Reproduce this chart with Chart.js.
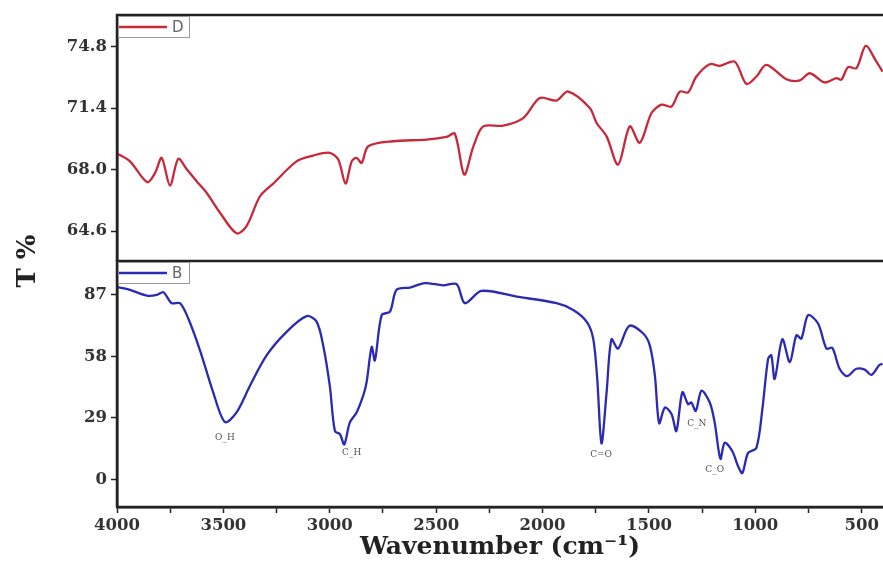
<!DOCTYPE html>
<html>
<head>
<meta charset="utf-8">
<script src="https://cdn.jsdelivr.net/npm/chart.js@4.4.1/dist/chart.umd.min.js"></script>
<style>
  html, body { margin: 0; padding: 0; background: #fff; }
  canvas { display: block; }
</style>
</head>
<body>
<canvas id="chart" width="883" height="562"></canvas>
<script>
// sample D (top panel)
const waveD = [4000, 3939, 3858, 3821, 3790, 3751, 3712, 3673, 3626, 3579,
  3516, 3438, 3391, 3328, 3266, 3156, 3078, 3000, 2960, 2926,
  2897, 2874, 2850, 2819, 2702, 2545, 2451, 2412, 2368, 2325,
  2279, 2185, 2091, 2013, 1934, 1880, 1778, 1746, 1699, 1645,
  1590, 1543, 1488, 1441, 1394, 1355, 1316, 1277, 1214, 1167,
  1097, 1042, 995, 948, 854, 791, 744, 674, 619, 596,
  564, 525, 481, 431, 402];
const transD = [68.89, 68.46, 67.31, 67.82, 68.65, 67.12, 68.60, 68.04, 67.36, 66.72,
  65.62, 64.48, 64.88, 66.53, 67.23, 68.46, 68.78, 68.93, 68.56, 67.23,
  68.46, 68.65, 68.37, 69.29, 69.57, 69.66, 69.81, 69.99, 67.73, 69.29,
  70.39, 70.43, 70.85, 71.96, 71.82, 72.32, 71.41, 70.58, 69.84, 68.28,
  70.39, 69.48, 71.13, 71.59, 71.49, 72.32, 72.27, 73.15, 73.83, 73.74,
  73.97, 72.74, 73.15, 73.79, 73.00, 72.93, 73.33, 72.82, 73.06, 72.97,
  73.67, 73.61, 74.84, 73.97, 73.42];

// sample B (bottom panel)
const waveB = [4000, 3939, 3860, 3813, 3782, 3743, 3704, 3665, 3610, 3548,
  3493, 3438, 3375, 3297, 3203, 3109, 3062, 3031, 3000, 2976,
  2952, 2932, 2906, 2874, 2843, 2827, 2803, 2788, 2756, 2717,
  2686, 2623, 2553, 2467, 2404, 2365, 2287, 2122, 1934, 1856,
  1793, 1762, 1743, 1723, 1699, 1676, 1645, 1593, 1527, 1496,
  1472, 1452, 1425, 1394, 1371, 1343, 1316, 1301, 1280, 1253,
  1214, 1191, 1164, 1144, 1108, 1081, 1061, 1034, 995, 967,
  940, 925, 909, 873, 838, 807, 784, 752, 705, 666,
  638, 604, 569, 525, 486, 455, 416, 402];
const transB = [90.7, 89.4, 86.7, 87.0, 88.3, 83.1, 83.1, 75.9, 60.9, 41.1,
  27.1, 31.6, 44.2, 58.5, 69.6, 77.0, 74.4, 63.2, 44.2, 22.8,
  21.3, 16.5, 26.8, 31.6, 39.5, 45.8, 62.5, 56.1, 77.5, 79.1,
  89.4, 90.5, 92.6, 91.5, 92.1, 83.1, 88.9, 86.2, 83.1, 79.9,
  74.4, 66.4, 47.4, 17.0, 41.1, 66.1, 61.7, 72.4, 68.8, 63.2,
  49.0, 26.5, 33.9, 30.8, 22.8, 41.1, 35.5, 36.3, 32.3, 41.8,
  36.3, 26.8, 9.7, 17.3, 13.3, 6.2, 3.0, 12.5, 14.9, 33.1,
  56.9, 58.5, 47.4, 66.1, 55.3, 68.0, 66.4, 77.5, 73.5, 61.7,
  62.0, 52.2, 48.7, 52.2, 51.8, 49.3, 54.1, 54.5];

// band labels on the B trace
const bandLabels = ["O_H", "C_H", "C=O", "C_N", "C_O"];
const bandWave = [3493, 2897, 1725, 1275, 1191];
const bandTrans = [19.8, 12.7, 11.8, 26.5, 4.6];

const xTicks = [4000, 3750, 3500, 3250, 3000, 2750, 2500, 2250, 2000, 1750, 1500, 1250, 1000, 750, 500];
const xLabels = [4000, 3500, 3000, 2500, 2000, 1500, 1000, 500];
const dTicks = [64.6, 66.3, 68.0, 69.7, 71.4, 73.1, 74.8];
const dLabels = [64.6, 68.0, 71.4, 74.8];
const bTicks = [0, 14.5, 29, 43.5, 58, 72.5, 87];
const bLabels = [0, 29, 58, 87];

const serif = "'DejaVu Serif', 'Liberation Serif', serif";
const tickFont = { family: serif, weight: "bold", size: 16.5 };

const toPoints = (xs, ys) => xs.map((x, i) => ({ x: x, y: ys[i] }));

const frames = {
    id: "frames",
    afterDraw(chart) {
        const ctx = chart.ctx;
        const area = chart.chartArea;
        const panels = [
            { scale: chart.scales.yD, name: "D", color: "#c8283a" },
            { scale: chart.scales.yB, name: "B", color: "#2a2ab4" },
        ];
        ctx.save();
        ctx.strokeStyle = "#222";
        ctx.lineWidth = 2.5;
        for (const p of panels) {
            const s = p.scale;
            ctx.beginPath();
            ctx.moveTo(area.left, s.bottom);
            ctx.lineTo(area.left, s.top);
            ctx.lineTo(area.right, s.top);
            ctx.stroke();
        }
        ctx.beginPath();
        ctx.moveTo(area.left, area.bottom);
        ctx.lineTo(area.right, area.bottom);
        ctx.stroke();

        // legend boxes
        for (const p of panels) {
            const x0 = area.left + 1;
            const y0 = p.scale.top + 1;
            ctx.fillStyle = "#fff";
            ctx.fillRect(x0, y0, 71, 21);
            ctx.strokeStyle = "#999";
            ctx.lineWidth = 1;
            ctx.strokeRect(x0 + 0.5, y0 + 0.5, 71, 21);
            ctx.strokeStyle = p.color;
            ctx.lineWidth = 2.5;
            ctx.beginPath();
            ctx.moveTo(x0 + 1, y0 + 11);
            ctx.lineTo(x0 + 49, y0 + 11);
            ctx.stroke();
            ctx.fillStyle = "#666";
            ctx.font = "15px 'DejaVu Sans', sans-serif";
            ctx.textAlign = "left";
            ctx.textBaseline = "middle";
            ctx.fillText(p.name, x0 + 54, y0 + 12);
        }

        // band labels
        const xs = chart.scales.x;
        const yb = chart.scales.yB;
        ctx.fillStyle = "#555";
        ctx.font = "9px " + serif;
        ctx.textAlign = "center";
        ctx.textBaseline = "middle";
        bandLabels.forEach((t, i) => {
            ctx.fillText(t, xs.getPixelForValue(bandWave[i]), yb.getPixelForValue(bandTrans[i]));
        });

        // y title
        ctx.fillStyle = "#222";
        ctx.font = "bold 26px " + serif;
        ctx.translate(28, (area.top + area.bottom) / 2);
        ctx.rotate(-Math.PI / 2);
        ctx.fillText("T %", 0, 0);
        ctx.restore();
    }
};

const yCommon = (ticks, labels, digits) => ({
    type: "linear",
    position: "left",
    stack: "ir",
    stackWeight: 1,
    border: { display: true, color: "#222", width: 2.5 },
    grid: { drawOnChartArea: false, drawTicks: true, tickLength: 6, tickColor: "#222", tickWidth: 1.5 },
    afterBuildTicks: (scale) => { scale.ticks = ticks.map((v) => ({ value: v })); },
    afterFit: (scale) => { scale.width = 117; },
    ticks: {
        color: "#333",
        font: tickFont,
        padding: 4,
        callback: (v) => labels.includes(v) ? v.toFixed(digits) : "",
    },
});

new Chart(document.getElementById("chart"), {
    type: "line",
    data: {
        datasets: [
            {
                label: "D",
                data: toPoints(waveD, transD),
                yAxisID: "yD",
                borderColor: "#c8283a",
                borderWidth: 2.3,
                pointRadius: 0,
                tension: 0.3,
            },
            {
                label: "B",
                data: toPoints(waveB, transB),
                yAxisID: "yB",
                borderColor: "#2a2ab4",
                borderWidth: 2.3,
                pointRadius: 0,
                tension: 0.3,
            },
        ],
    },
    options: {
        responsive: false,
        animation: false,
        devicePixelRatio: 1,
        layout: { padding: { top: 15, right: 0, left: 0, bottom: 0 } },
        plugins: {
            legend: { display: false },
            tooltip: { enabled: false },
        },
        scales: {
            x: {
                type: "linear",
                reverse: true,
                min: 400,
                max: 4000,
                border: { display: true, color: "#222", width: 2.5 },
                grid: { drawOnChartArea: false, drawTicks: true, tickLength: 6, tickColor: "#222", tickWidth: 1.5 },
                afterBuildTicks: (scale) => { scale.ticks = xTicks.map((v) => ({ value: v })); },
                afterFit: (scale) => { scale.height = 55; },
                ticks: {
                    color: "#333",
                    font: tickFont,
                    padding: 3,
                    maxRotation: 0,
                    autoSkip: false,
                    callback: (v) => xLabels.includes(v) ? String(v) : "",
                },
                title: {
                    display: true,
                    text: "Wavenumber (cm⁻¹)",
                    color: "#222",
                    font: { family: serif, weight: "bold", size: 25 },
                    padding: { top: 0, bottom: 0 },
                },
            },
            yD: Object.assign(yCommon(dTicks, dLabels, 1), { min: 62.95, max: 76.55, weight: 1 }),
            yB: Object.assign(yCommon(bTicks, bLabels, 0), { min: -13, max: 103, weight: 0 }),
        },
    },
    plugins: [frames],
});
</script>
</body>
</html>
